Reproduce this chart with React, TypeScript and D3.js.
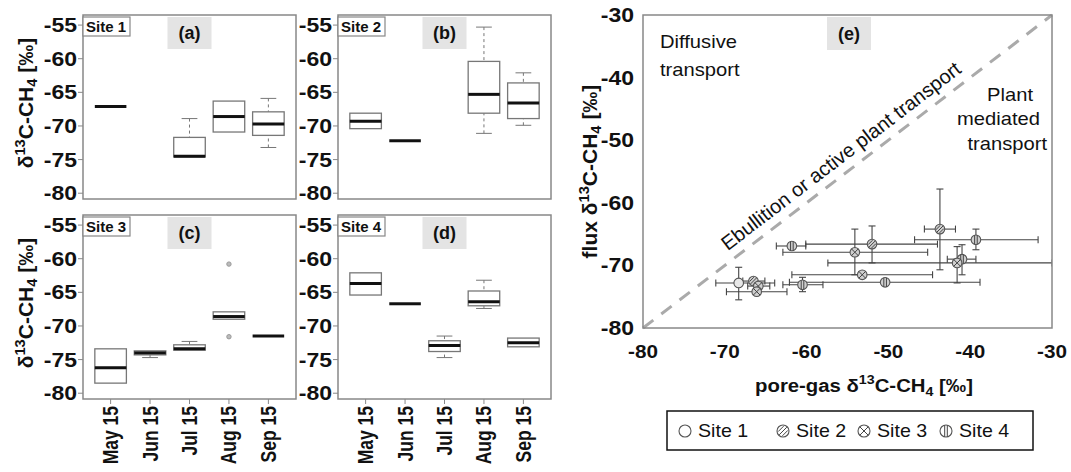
import React, { useEffect, useRef } from 'react';
import * as d3 from 'd3';

const FONT = '"Liberation Sans", Arial, Helvetica, sans-serif';

const months = ['May 15', 'Jun 15', 'Jul 15', 'Aug 15', 'Sep 15'];
const boxTicks = [-55, -60, -65, -70, -75, -80];

// [lower whisker, q1, median, q3, upper whisker], null = no sample
const site1Stats = [
  [-67.1, -67.1, -67.1, -67.1, -67.1],
  null,
  [-74.6, -74.6, -74.5, -71.7, -68.9],
  [-70.9, -70.9, -68.6, -66.3, -66.3],
  [-73.2, -71.4, -69.7, -67.9, -65.9],
];
const site2Stats = [
  [-70.4, -70.4, -69.3, -68.1, -68.1],
  [-72.2, -72.2, -72.2, -72.2, -72.2],
  null,
  [-71.1, -68.1, -65.3, -60.4, -55.3],
  [-69.9, -68.9, -66.6, -63.6, -62.1],
];
const site3Stats = [
  [-78.5, -78.5, -76.2, -73.4, -73.4],
  [-74.7, -74.3, -74.0, -73.7, -73.7],
  [-73.6, -73.6, -73.4, -72.8, -72.3],
  [-69.0, -69.0, -68.6, -67.9, -67.9],
  [-71.5, -71.5, -71.5, -71.5, -71.5],
];
const site3OutlierMonth = ['Aug 15', 'Aug 15'];
const site3OutlierValue = [-60.8, -71.6];
const site4Stats = [
  [-65.4, -65.4, -63.7, -62.1, -62.1],
  [-66.7, -66.7, -66.7, -66.7, -66.7],
  [-74.7, -73.8, -72.9, -72.2, -71.5],
  [-67.4, -67.0, -66.4, -64.8, -63.2],
  [-73.1, -73.1, -72.5, -71.8, -71.8],
];

// panel (e): pore-gas vs flux
const scatterTicks = [-80, -70, -60, -50, -40, -30];
const pointSite = [1, 2, 3, 3, 4, 4, 3, 4, 3, 2, 2, 4, 4, 3];
const poreGas = [-68.3, -66.5, -65.9, -66.1, -60.5, -50.4, -53.2, -61.8, -54.1, -52.0, -43.7, -39.3, -41.0, -41.6];
const poreGasLow = [-71.1, -67.8, -67.2, -69.8, -62.9, -62.1, -61.8, -63.7, -62.9, -60.1, -45.6, -46.8, -42.8, -57.4];
const poreGasHigh = [-63.9, -65.1, -64.5, -62.4, -58.0, -38.8, -44.6, -60.1, -45.2, -44.0, -41.8, -31.7, -39.3, -30.0];
const flux = [-72.8, -72.5, -73.3, -74.2, -73.1, -72.7, -71.5, -66.9, -67.9, -66.6, -64.2, -65.9, -69.0, -69.6];
const fluxLow = [-75.5, -73.0, -73.8, -74.5, -74.2, -73.0, -71.8, -67.3, -71.5, -69.6, -70.7, -67.5, -71.5, -72.8];
const fluxHigh = [-70.3, -72.0, -72.8, -73.9, -71.9, -72.4, -71.2, -66.5, -64.2, -63.7, -57.8, -64.2, -66.7, -67.0];
const legendSites = [1, 2, 3, 4];

// text placed with a horizontal stretch (the figure is a bit wide)
function label(g, x, y, str, size, weight, anchor, sx, rot = 0) {
  return g.append('text')
    .attr('transform', `translate(${x},${y}) scale(${sx},1)${rot ? ` rotate(${rot})` : ''}`)
    .attr('text-anchor', anchor)
    .style('font', `${weight} ${size}px ${FONT}`)
    .attr('fill', '#111')
    .text(str);
}

function isoLabel(sel, prefix) {
  sel.append('tspan').text(prefix + 'δ');
  sel.append('tspan').attr('dy', -8).attr('font-size', '0.7em').text('13');
  sel.append('tspan').attr('dy', 8).text('C-CH');
  sel.append('tspan').attr('dy', 4).attr('font-size', '0.7em').text('4');
  sel.append('tspan').attr('dy', -4).text(' [‰]');
}

function drawBoxPanel(svg, left, top, stats, site, tag, showYLabel, showXLabels, outMonths, outValues) {
  const w = 213;
  const h = 184;
  const x = d3.scaleLinear().domain([0.3, 5.7]).range([left, left + w]);
  const y = d3.scaleLinear().domain([-80.86, -53.5]).range([top + h, top]);
  const step = x(2) - x(1);
  const g = svg.append('g');

  // tag "(a)" with grey background
  const cx = left + w / 2;
  g.append('rect').attr('x', cx - 22).attr('y', top + 2).attr('width', 44).attr('height', 32).attr('fill', '#e4e4e4');
  label(g, cx, top + 24, tag, 18, 'bold', 'middle', 1);

  stats.forEach((s, i) => {
    if (!s) return;
    const c = x(i + 1);
    const hw = step * 0.4;
    const sw = step * 0.2;
    if (s[0] < s[1]) {
      g.append('line').attr('x1', c).attr('x2', c).attr('y1', y(s[0])).attr('y2', y(s[1]))
        .attr('stroke', '#777').attr('stroke-dasharray', '3,3');
      g.append('line').attr('x1', c - sw).attr('x2', c + sw).attr('y1', y(s[0])).attr('y2', y(s[0])).attr('stroke', '#777');
    }
    if (s[4] > s[3]) {
      g.append('line').attr('x1', c).attr('x2', c).attr('y1', y(s[4])).attr('y2', y(s[3]))
        .attr('stroke', '#777').attr('stroke-dasharray', '3,3');
      g.append('line').attr('x1', c - sw).attr('x2', c + sw).attr('y1', y(s[4])).attr('y2', y(s[4])).attr('stroke', '#777');
    }
    if (s[3] > s[1]) {
      g.append('rect').attr('x', c - hw).attr('y', y(s[3])).attr('width', hw * 2).attr('height', y(s[1]) - y(s[3]))
        .attr('fill', 'white').attr('stroke', '#777').attr('stroke-width', 1.3);
    }
    g.append('line').attr('x1', c - hw).attr('x2', c + hw).attr('y1', y(s[2])).attr('y2', y(s[2]))
      .attr('stroke', '#111').attr('stroke-width', 3);
  });

  if (outMonths) {
    outMonths.forEach((m, k) => {
      g.append('circle').attr('cx', x(months.indexOf(m) + 1)).attr('cy', y(outValues[k])).attr('r', 2.2)
        .attr('fill', '#bbb').attr('stroke', '#999').attr('stroke-width', 1);
    });
  }

  g.append('rect').attr('x', left).attr('y', top).attr('width', w).attr('height', h)
    .attr('fill', 'none').attr('stroke', '#888').attr('stroke-width', 1.5);

  // site label box
  g.append('rect').attr('x', left).attr('y', top + 2).attr('width', 47).attr('height', 19)
    .attr('fill', 'white').attr('stroke', '#888').attr('stroke-width', 1.2);
  label(g, left + 3, top + 17, site, 15, 'bold', 'start', 1);

  boxTicks.forEach((t) => {
    g.append('line').attr('x1', left - 5).attr('x2', left).attr('y1', y(t)).attr('y2', y(t)).attr('stroke', '#888');
    label(g, left - 6, y(t) + 7, String(t), 20, 'bold', 'end', 1.15);
  });

  if (showXLabels) {
    months.forEach((m, i) => {
      const c = x(i + 1);
      g.append('line').attr('x1', c).attr('x2', c).attr('y1', top + h).attr('y2', top + h + 5).attr('stroke', '#888');
      label(g, c + 7.5, top + h + 7, m, 17.5, 'bold', 'end', 1.22, -90);
    });
  }

  if (showYLabel) {
    const t = label(g, 33, top + h / 2 - 4, '', 21, 'bold', 'middle', 1, -90);
    isoLabel(t, '');
  }
}

function marker(g, cxp, cyp, r, site, fill) {
  g.append('circle').attr('cx', cxp).attr('cy', cyp).attr('r', r)
    .attr('fill', fill || (site === 1 ? '#e8e8e8' : '#cfcfcf')).attr('stroke', '#555').attr('stroke-width', 1.1);
  const d = r * 0.7;
  if (site === 2) {
    [-0.5, 0, 0.5].forEach((o) => {
      const off = o * r;
      const l = Math.sqrt(Math.max(r * r - off * off * 2, 0)) * 0.9;
      g.append('line')
        .attr('x1', cxp - l * 0.707 + off * 0.707).attr('y1', cyp + l * 0.707 + off * 0.707)
        .attr('x2', cxp + l * 0.707 + off * 0.707).attr('y2', cyp - l * 0.707 + off * 0.707)
        .attr('stroke', '#444').attr('stroke-width', 1);
    });
  } else if (site === 3) {
    g.append('line').attr('x1', cxp - d).attr('y1', cyp - d).attr('x2', cxp + d).attr('y2', cyp + d).attr('stroke', '#444');
    g.append('line').attr('x1', cxp - d).attr('y1', cyp + d).attr('x2', cxp + d).attr('y2', cyp - d).attr('stroke', '#444');
  } else if (site === 4) {
    [-1.3, 1.3].forEach((o) => {
      g.append('line').attr('x1', cxp + o).attr('x2', cxp + o).attr('y1', cyp - r * 0.95).attr('y2', cyp + r * 0.95)
        .attr('stroke', '#444').attr('stroke-width', 1);
    });
  }
}

function drawScatter(svg) {
  const left = 643;
  const top = 15;
  const right = 1052;
  const bottom = 328;
  const x = d3.scaleLinear().domain([-80, -30]).range([left, right]);
  const y = d3.scaleLinear().domain([-80, -30]).range([bottom, top]);
  const g = svg.append('g');

  g.append('rect').attr('x', 827).attr('y', 17).attr('width', 44).attr('height', 33).attr('fill', '#e4e4e4');
  label(g, 849, 40, '(e)', 18, 'bold', 'middle', 1);

  g.append('line').attr('x1', x(-80)).attr('y1', y(-80)).attr('x2', x(-30)).attr('y2', y(-30))
    .attr('stroke', '#aaa').attr('stroke-width', 3).attr('stroke-dasharray', '13,10');

  label(g, 660, 48, 'Diffusive', 18, 'normal', 'start', 1.12);
  label(g, 660, 76, 'transport', 18, 'normal', 'start', 1.12);
  label(g, 1033, 101, 'Plant', 18, 'normal', 'end', 1.12);
  label(g, 1040, 125, 'mediated', 18, 'normal', 'end', 1.12);
  label(g, 1047, 150, 'transport', 18, 'normal', 'end', 1.12);
  const ang = (Math.atan2(y(-80) - y(-30), x(-30) - x(-80)) * 180) / Math.PI;
  label(g, x(-55.3), y(-55.3) - 12, 'Ebullition or active plant transport', 20, 'normal', 'middle', 1, -ang);

  const clip = svg.append('clipPath').attr('id', 'eclip');
  clip.append('rect').attr('x', left).attr('y', top).attr('width', right - left).attr('height', bottom - top);
  const pts = g.append('g').attr('clip-path', 'url(#eclip)');
  const cap = 3.5;
  poreGas.forEach((p, i) => {
    const cy = y(flux[i]);
    const cx = x(p);
    pts.append('line').attr('x1', x(poreGasLow[i])).attr('x2', x(poreGasHigh[i])).attr('y1', cy).attr('y2', cy)
      .attr('stroke', '#444').attr('stroke-width', 1.1);
    [poreGasLow[i], poreGasHigh[i]].forEach((v) => {
      pts.append('line').attr('x1', x(v)).attr('x2', x(v)).attr('y1', cy - cap).attr('y2', cy + cap)
        .attr('stroke', '#444').attr('stroke-width', 1.1);
    });
    pts.append('line').attr('x1', cx).attr('x2', cx).attr('y1', y(fluxLow[i])).attr('y2', y(fluxHigh[i]))
      .attr('stroke', '#444').attr('stroke-width', 1.1);
    [fluxLow[i], fluxHigh[i]].forEach((v) => {
      pts.append('line').attr('x1', cx - cap).attr('x2', cx + cap).attr('y1', y(v)).attr('y2', y(v))
        .attr('stroke', '#444').attr('stroke-width', 1.1);
    });
  });
  poreGas.forEach((p, i) => marker(pts, x(p), y(flux[i]), 4.8, pointSite[i]));

  g.append('rect').attr('x', left).attr('y', top).attr('width', right - left).attr('height', bottom - top)
    .attr('fill', 'none').attr('stroke', '#888').attr('stroke-width', 1.5);

  scatterTicks.forEach((t) => {
    label(g, x(t), 358, String(t), 18, 'bold', 'middle', 1.15);
    label(g, 634, y(t) + 7, String(t), 20, 'bold', 'end', 1.15);
  });

  const xl = label(g, 864, 392, '', 18, 'bold', 'middle', 1.13);
  isoLabel(xl, 'pore-gas ');
  const yl = label(g, 597, (top + bottom) / 2, '', 21, 'bold', 'middle', 1, -90);
  isoLabel(yl, 'flux ');

  // legend
  g.append('rect').attr('x', 667).attr('y', 411).attr('width', 366).attr('height', 39)
    .attr('fill', 'white').attr('stroke', '#111').attr('stroke-width', 1.5);
  const symX = [685, 783, 864, 946];
  legendSites.forEach((s, i) => {
    marker(g, symX[i], 431, 6, s, 'white');
    label(g, symX[i] + 13, 437, `Site ${s}`, 18, 'normal', 'start', 1.09);
  });
}

export default function App() {
  const ref = useRef(null);
  useEffect(() => {
    const svg = d3.select(ref.current);
    svg.selectAll('*').remove();
    drawBoxPanel(svg, 83, 15, site1Stats, 'Site 1', '(a)', true, false);
    drawBoxPanel(svg, 338, 15, site2Stats, 'Site 2', '(b)', false, false);
    drawBoxPanel(svg, 83, 215, site3Stats, 'Site 3', '(c)', true, true, site3OutlierMonth, site3OutlierValue);
    drawBoxPanel(svg, 338, 215, site4Stats, 'Site 4', '(d)', false, true);
    drawScatter(svg);
  }, []);
  return (
    <svg ref={ref} width={1071} height={472}
      style={{ position: 'absolute', left: 0, top: 0, background: 'white' }} />
  );
}
